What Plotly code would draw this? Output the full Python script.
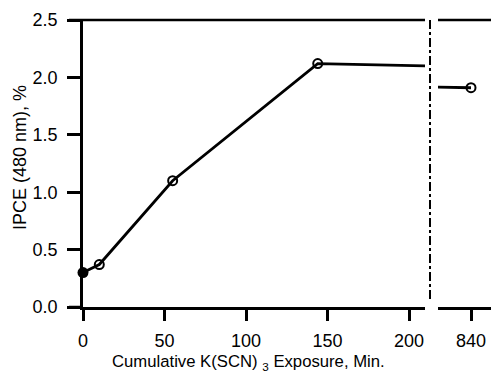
import plotly.graph_objects as go

exposure = [0, 10, 55, 144, 840]
ipce = [0.30, 0.37, 1.10, 2.12, 1.91]
filled = [True, False, False, False, False]

left_ticks = [0, 50, 100, 150, 200]
right_ticks = [840]
y_ticks = [0.0, 0.5, 1.0, 1.5, 2.0, 2.5]
y_ticklabels = ["0.0", "0.5", "1.0", "1.5", "2.0", "2.5"]

W, H = 499, 374
OFF = 8  # page body margin
FONT = "Liberation Sans, Arial, Helvetica, sans-serif"


def px(p):
    return (p - OFF) / W


def py(p):
    return 1 - (p - OFF) / H


fig = go.Figure()
xf = [x for x, f in zip(exposure, filled) if f]
yf = [y for y, f in zip(ipce, filled) if f]
xo = [x for x, f in zip(exposure, filled) if not f]
yo = [y for y, f in zip(ipce, filled) if not f]

for xa in ["x", "x2"]:
    fig.add_trace(go.Scatter(x=exposure, y=ipce, mode="lines", xaxis=xa, yaxis="y",
                             line=dict(color="black", width=2.8), showlegend=False, cliponaxis=True))
    fig.add_trace(go.Scatter(x=xo, y=yo, mode="markers", xaxis=xa, yaxis="y",
                             marker=dict(symbol="circle-open", size=9, color="black",
                                         line=dict(width=2, color="black")),
                             showlegend=False, cliponaxis=True))
    fig.add_trace(go.Scatter(x=xf, y=yf, mode="markers", xaxis=xa, yaxis="y",
                             marker=dict(symbol="circle", size=11, color="black"),
                             showlegend=False, cliponaxis=False))

x0px, x1px = 83, 425
x2a, x2b = 438, 499 + OFF
ytop, ybot = 20, 307
ppu = (409 - 83) / 200.0

tickfont = dict(family=FONT, size=18, color="black")

fig.update_layout(
    width=W, height=H,
    margin=dict(l=0, r=0, t=0, b=0),
    plot_bgcolor="white", paper_bgcolor="white",
    xaxis=dict(domain=[px(x0px), px(x1px)], range=[0, (x1px - x0px) / ppu],
               tickvals=left_ticks, ticks="outside", ticklen=11, tickwidth=2.5,
               tickcolor="black", showline=True, linecolor="black", linewidth=2.5,
               mirror=False, showgrid=False, zeroline=False, tickfont=tickfont,
               automargin=False, ticklabelstandoff=5),
    xaxis2=dict(domain=[px(x2a), min(1.0, px(x2b))],
                range=[840 - (471 - x2a) / ppu, 840 + (x2b - 471) / ppu],
                tickvals=right_ticks, ticks="outside", ticklen=11, tickwidth=2.5,
                tickcolor="black", showline=True, linecolor="black", linewidth=2.5,
                showgrid=False, zeroline=False, tickfont=tickfont, anchor="y",
                automargin=False, ticklabelstandoff=5),
    yaxis=dict(domain=[py(ybot), py(ytop)], range=[0, 2.5],
               tickvals=y_ticks, ticktext=y_ticklabels, ticks="outside", ticklen=13,
               tickwidth=2.5, tickcolor="black", showline=True, linecolor="black",
               linewidth=2.5, showgrid=False, zeroline=False, tickfont=tickfont,
               automargin=False, ticklabelstandoff=6),
)

# top border lines of both panels
fig.add_shape(type="line", xref="paper", yref="paper", x0=px(69), x1=px(x1px),
              y0=py(ytop), y1=py(ytop), line=dict(color="black", width=2.5))
fig.add_shape(type="line", xref="paper", yref="paper", x0=px(x2a), x1=1,
              y0=py(ytop), y1=py(ytop), line=dict(color="black", width=2.5))
# bottom line extension to the left (tick at 0)
fig.add_shape(type="line", xref="paper", yref="paper", x0=px(69), x1=px(x0px),
              y0=py(ybot), y1=py(ybot), line=dict(color="black", width=2.5))
# axis break marker
fig.add_shape(type="line", xref="paper", yref="paper", x0=px(430), x1=px(430),
              y0=py(ytop), y1=py(ybot - 5),
              line=dict(color="black", width=2, dash="dashdot"))

fig.add_annotation(text="Cumulative K(SCN) <sub>3</sub> Exposure, Min.", xref="paper", yref="paper",
                   x=px(248), y=py(362), xanchor="center", yanchor="middle", showarrow=False,
                   font=dict(family=FONT, size=16.7, color="black"))
fig.add_annotation(text="IPCE (480 nm), %", xref="paper", yref="paper",
                   x=px(20), y=py(158), xanchor="center", yanchor="middle",
                   textangle=-90, showarrow=False,
                   font=dict(family=FONT, size=18, color="black"))

fig.write_html("out.html")
